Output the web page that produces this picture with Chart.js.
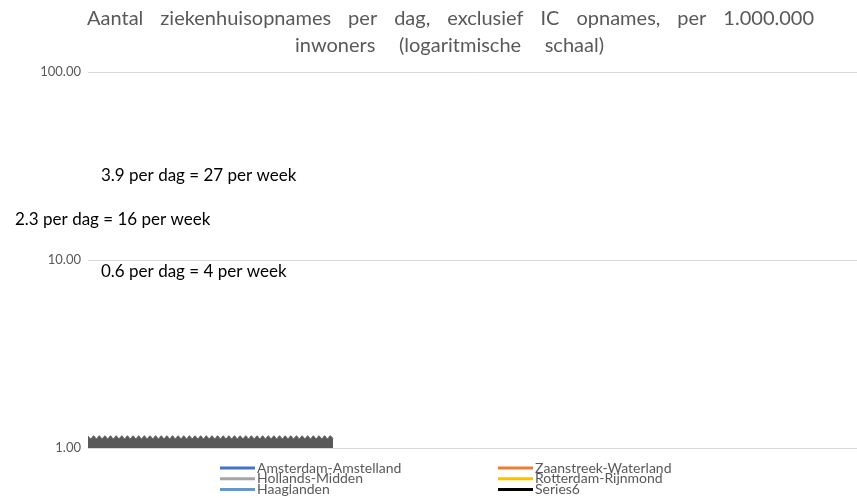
<!DOCTYPE html>
<html>
<head>
<meta charset="utf-8">
<script src="https://cdn.jsdelivr.net/npm/chart.js@4.4.1/dist/chart.umd.min.js"></script>
<style>
html, body { margin: 0; padding: 0; background: #fff; }
#wrap { width: 857px; height: 498px; position: relative; }
</style>
</head>
<body>
<div id="wrap"><canvas id="chart"></canvas></div>
<script>
// chart texts
const titleLines = [
    'Aantal ziekenhuisopnames per dag, exclusief IC opnames, per 1.000.000',
    'inwoners (logaritmische schaal)'
];
const noteTexts = ['3.9 per dag = 27 per week', '2.3 per dag = 16 per week', '0.6 per dag = 4 per week'];
const noteValues = [28, 16.5, 8.7];

// series (legend order, two per row as in Excel)
const regionNames = ['Amsterdam-Amstelland', 'Zaanstreek-Waterland', 'Hollands-Midden',
                     'Rotterdam-Rijnmond', 'Haaglanden', 'Series6'];
const regionColors = ['#4472C4', '#ED7D31', '#A5A5A5', '#FFC000', '#5B9BD5', '#000000'];
const regionValues = [[], [], [], [], [], []];

// the grey band at the bottom
const bandValues = [
    1.16, 1.12, 1.16, 1.12, 1.16, 1.12, 1.16, 1.12, 1.16, 1.12, 1.16, 1.12,
    1.16, 1.12, 1.16, 1.12, 1.16, 1.12, 1.16, 1.12, 1.16, 1.12, 1.16, 1.12,
    1.16, 1.12, 1.16, 1.12, 1.16, 1.12, 1.16, 1.12, 1.16, 1.12, 1.16, 1.12,
    1.16, 1.12, 1.16, 1.12, 1.16, 1.12, 1.16, 1.12, 1.16, 1.12, 1.16, 1.12,
    1.16, 1.12, 1.16, 1.12, 1.16, 1.12, 1.16, 1.12, 1.16, 1.12, 1.16, 1.12,
    1.16, 1.12, 1.16, 1.12, 1.16, 1.12, 1.16, 1.12, 1.16, 1.12, 1.16, 1.12,
    1.16, 1.12, 1.16, 1.12, 1.16, 1.12, 1.16, 1.12, 1.16, 1.12, 1.16, 1.12,
    1.16, 1.12, 1.16, 1.12
];
const dayCount = 274;
const dayLabels = Array.from({ length: dayCount }, () => '');

const yTicks = [1, 10, 100];

const grey = '#595959';

// draws a line of words spread over a given width
function drawSpread(ctx, text, left, width, y)
{
    const words = text.split(' ');
    let used = 0;
    words.forEach(w => used += ctx.measureText(w).width);
    const gap = (width - used) / (words.length - 1);
    let x = left;
    words.forEach(w => {
        ctx.fillText(w, x, y);
        x += ctx.measureText(w).width + gap;
    });
}

const titlePlugin = {
    id: 'spreadTitle',
    afterDraw(chart)
    {
        const ctx = chart.ctx;
        ctx.save();
        ctx.font = '20px Lato';
        ctx.fillStyle = grey;
        ctx.textAlign = 'left';
        ctx.textBaseline = 'middle';
        drawSpread(ctx, titleLines[0], 87, 727, 19);
        drawSpread(ctx, titleLines[1], 295, 309, 46);
        ctx.restore();
    }
};

const notesPlugin = {
    id: 'notes',
    afterDraw(chart)
    {
        const ctx = chart.ctx;
        const yScale = chart.scales.y;
        const lefts = [101, 15, 101];
        ctx.save();
        ctx.font = '17px Lato';
        ctx.fillStyle = '#000';
        ctx.textAlign = 'left';
        ctx.textBaseline = 'middle';
        noteTexts.forEach((t, i) => {
            ctx.fillText(t, lefts[i], yScale.getPixelForValue(noteValues[i]));
        });
        ctx.restore();
    }
};

const legendPlugin = {
    id: 'twoColumnLegend',
    afterDraw(chart)
    {
        const ctx = chart.ctx;
        ctx.save();
        ctx.font = '14px Lato';
        ctx.textAlign = 'left';
        ctx.textBaseline = 'middle';
        chart.data.datasets.filter(d => d.inLegend).forEach((d, i) => {
            const col = i % 2;
            const row = Math.floor(i / 2);
            const x = 220 + col * 278;
            const y = 468 + row * 10.7;
            ctx.strokeStyle = d.borderColor;
            ctx.lineWidth = 3;
            ctx.beginPath();
            ctx.moveTo(x, y);
            ctx.lineTo(x + 35, y);
            ctx.stroke();
            ctx.fillStyle = grey;
            ctx.fillText(d.label, x + 37, y);
        });
        ctx.restore();
    }
};

const datasets = regionNames.map((name, i) => ({
    label: name,
    data: regionValues[i],
    borderColor: regionColors[i],
    backgroundColor: regionColors[i],
    borderWidth: 2.25,
    pointRadius: 0,
    inLegend: true
}));

datasets.push({
    label: 'band',
    data: bandValues,
    borderColor: grey,
    backgroundColor: grey,
    borderWidth: 1,
    pointRadius: 0,
    tension: 0.4,
    fill: { value: 1 },
    inLegend: false
});

new Chart(document.getElementById('chart'), {
    type: 'line',
    data: {
        labels: dayLabels,
        datasets: datasets
    },
    options: {
        responsive: true,
        maintainAspectRatio: false,
        animation: false,
        layout: { padding: { top: 72, bottom: 50, left: 0, right: 0 } },
        plugins: {
            legend: { display: false },
            title: { display: false },
            tooltip: { enabled: false }
        },
        scales: {
            x: { display: false, offset: false },
            y: {
                type: 'logarithmic',
                min: 1,
                max: 100,
                afterBuildTicks: s => { s.ticks = yTicks.map(v => ({ value: v })); },
                afterFit: s => { s.width = 88; },
                ticks: {
                    callback: v => Number(v).toFixed(2),
                    color: grey,
                    font: { family: 'Lato', size: 13 },
                    padding: 7
                },
                grid: { color: '#d9d9d9', lineWidth: 1, drawTicks: false },
                border: { display: false }
            }
        }
    },
    plugins: [titlePlugin, notesPlugin, legendPlugin]
});
</script>
</body>
</html>
